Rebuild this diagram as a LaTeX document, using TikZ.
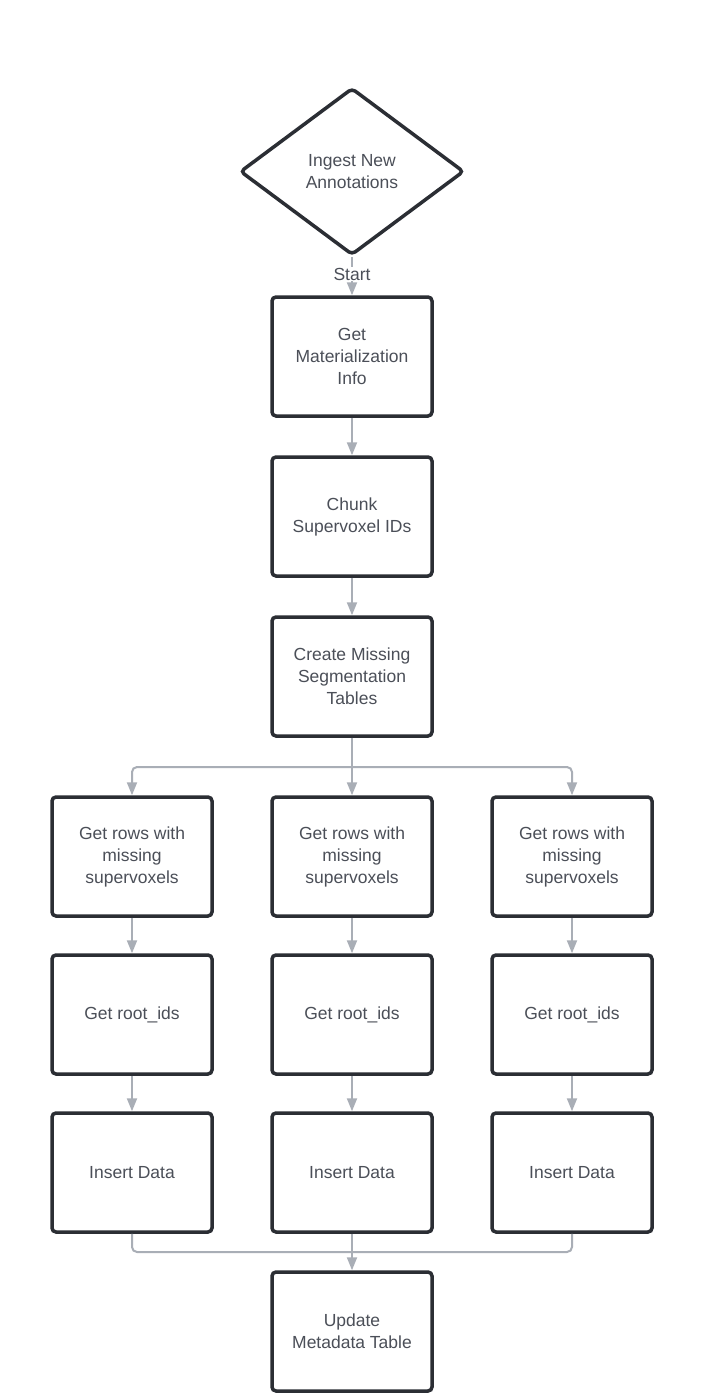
\documentclass[tikz,border=0pt]{standalone}
\usepackage{fontspec}
\setmainfont{Liberation Sans}
\usetikzlibrary{shapes.geometric,arrows.meta}
\definecolor{boxline}{HTML}{2B2E34}
\definecolor{txt}{HTML}{4B4F58}
\definecolor{conncol}{HTML}{A9AEB6}
\begin{document}
\begin{tikzpicture}[x=1pt,y=-1pt,
  every node/.style={font=\fontsize{17.5}{22}\selectfont, text=txt, align=center},
  stepbox/.style={draw=boxline, line width=3.5pt, rounded corners=4pt, minimum width=160pt, minimum height=119pt, inner sep=0pt, fill=white},
  decide/.style={draw=boxline, line width=3.5pt, diamond, rounded corners=4pt, minimum width=224pt, minimum height=167pt, inner sep=0pt, fill=white},
  conn/.style={draw=conncol, line width=2pt, -{Triangle[width=10pt,length=13pt]}},
  plain/.style={draw=conncol, line width=2pt, rounded corners=5pt}
]
\fill[white] (0,0) rectangle (704,1397);
\useasboundingbox (0,0) rectangle (704,1397);

\node[decide] (d) at (352,171.5) {Ingest New\\Annotations};
\node[stepbox] (b1) at (352,356.5) {Get\\Materialization\\Info};
\node[stepbox] (b2) at (352,516.5) {Chunk\\Supervoxel IDs};
\node[stepbox] (b3) at (352,676.5) {Create Missing\\Segmentation\\Tables};

\node[stepbox] (r4a) at (132,856.5) {Get rows with\\missing\\supervoxels};
\node[stepbox] (r4b) at (352,856.5) {Get rows with\\missing\\supervoxels};
\node[stepbox] (r4c) at (572,856.5) {Get rows with\\missing\\supervoxels};

\node[stepbox] (r5a) at (132,1014.5) {Get root\_ids};
\node[stepbox] (r5b) at (352,1014.5) {Get root\_ids};
\node[stepbox] (r5c) at (572,1014.5) {Get root\_ids};

\node[stepbox] (r6a) at (132,1172.5) {Insert Data};
\node[stepbox] (r6b) at (352,1172.5) {Insert Data};
\node[stepbox] (r6c) at (572,1172.5) {Insert Data};

\node[stepbox] (fin) at (352,1331.5) {Update\\Metadata Table};

\coordinate (split) at (352,767);
\coordinate (merge) at (352,1252);

\draw[conn] (d.south) -- node[fill=white, inner sep=1pt, yshift=2pt] (startlbl) {Start} (b1.north);
\draw[conn] (b1.south) -- (b2.north);
\draw[conn] (b2.south) -- (b3.north);

\draw[conn] (b3.south) -- (r4b.north);
\draw[plain] (b3.south) -- (split);
\draw[conn, rounded corners=5pt] (split) -| (r4a.north);
\draw[conn, rounded corners=5pt] (split) -| (r4c.north);

\draw[conn] (r4a.south) -- (r5a.north);
\draw[conn] (r4b.south) -- (r5b.north);
\draw[conn] (r4c.south) -- (r5c.north);
\draw[conn] (r5a.south) -- (r6a.north);
\draw[conn] (r5b.south) -- (r6b.north);
\draw[conn] (r5c.south) -- (r6c.north);

\draw[plain] (r6a.south) |- (merge);
\draw[plain] (r6c.south) |- (merge);
\draw[plain] (r6b.south) -- (merge);
\draw[conn] (merge) -- (fin.north);
\end{tikzpicture}
\end{document}
